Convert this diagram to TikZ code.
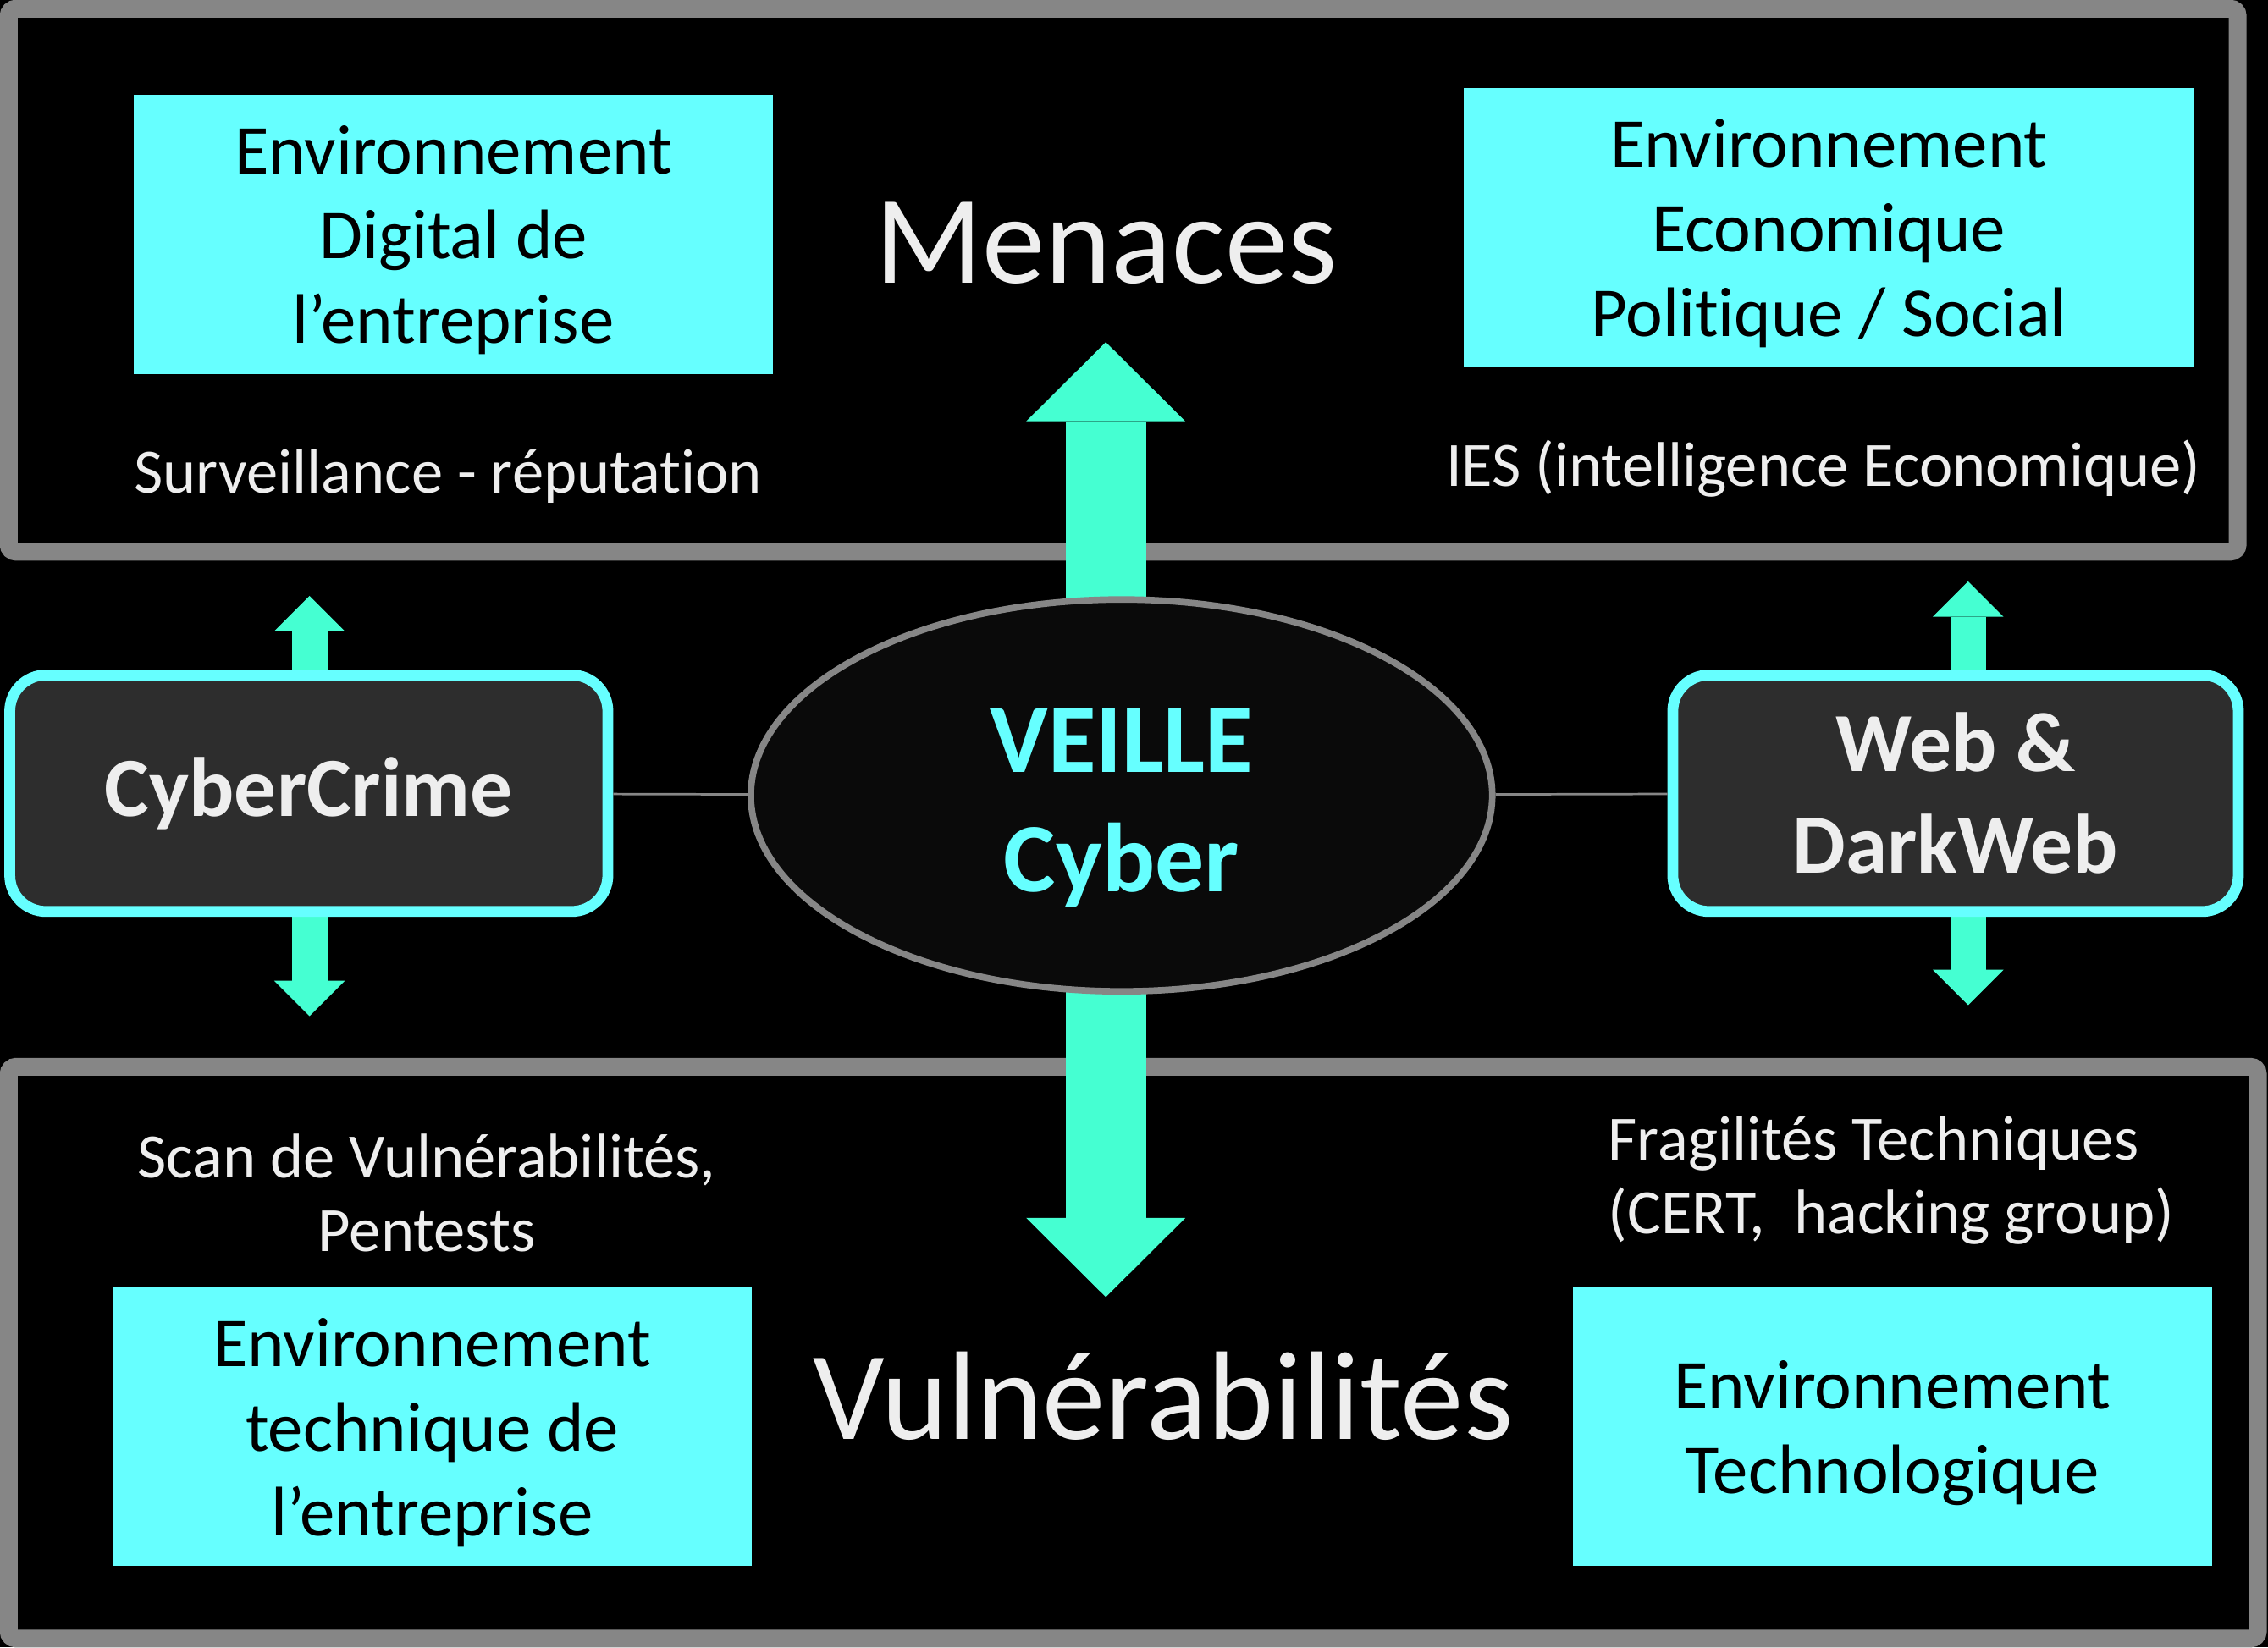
\documentclass[tikz,border=0pt]{standalone}
\usepackage{fontspec}
\setmainfont{Carlito}[Ligatures=CommonOff]
\usepackage{tikz}
\usetikzlibrary{shapes.geometric}
\usetikzlibrary{arrows.meta}
\definecolor{framegray}{HTML}{868686}
\definecolor{boxcyan}{HTML}{66FFFF}
\definecolor{arrowgreen}{HTML}{45FFD2}
\definecolor{darkfill}{HTML}{2D2D2D}
\definecolor{lighttext}{HTML}{EEEEEE}
\definecolor{ovalfill}{HTML}{0A0A0A}
\tikzset{zoneframe/.style={draw=framegray, line width=1.23mm, rounded corners=0.5mm},
 envbox/.style={fill=boxcyan, inner sep=0pt, align=center, text=black, text depth=0pt,
   font=\fontsize{13.8}{16.64}\selectfont},
 notetext/.style={text=lighttext, inner sep=0pt, font=\fontsize{12.42}{14.5}\selectfont},
 bigtitle/.style={text=lighttext, inner sep=0pt, font=\fontsize{24.8}{30}\selectfont},
 darkbox/.style={draw=boxcyan, fill=darkfill, line width=0.75mm, rounded corners=2.5mm,
   minimum height=16.35mm, inner sep=0pt, align=center, text=lighttext,
   font=\bfseries\fontsize{16.56}{20.06}\selectfont},
 oval/.style={ellipse, draw=framegray, fill=ovalfill, line width=0.45mm,
   minimum width=51.26mm, minimum height=27.1mm, inner sep=0pt},
 ovaltext/.style={text=boxcyan, inner sep=0pt, align=center,
   font=\bfseries\fontsize{19.3}{23.55}\selectfont},
 bigarrow/.style={draw=arrowgreen, line width=5.57mm,
   arrows={Triangle[width=11mm,length=5.47mm,line width=0pt]-Triangle[width=11mm,length=5.47mm,line width=0pt]}},
 smallarrow/.style={draw=arrowgreen, line width=2.46mm,
   arrows={Triangle[width=4.9mm,length=2.45mm,line width=0pt]-Triangle[width=4.9mm,length=2.45mm,line width=0pt]}},
 link/.style={draw=framegray, line width=0.16mm},
 }

\begin{document}
\begin{tikzpicture}[x=0.1mm, y=-0.1mm]
        \path[use as bounding box, fill=black] (0,0) rectangle (1568,1139);
        \draw[zoneframe] (6,6) rectangle (1547,381.5);
        \draw[zoneframe] (6,737.7) rectangle (1561,1133);

        \coordinate (mtop) at (764.5,236.6);
        \coordinate (mbot) at (764.5,896.9);
        \draw[bigarrow] (mtop) -- (mbot);

        \node[oval] (veille) at (775.4,550) {};
        \node[ovaltext] (veilletxt) at (775.4,558.6) {VEILLE\\Cyber};

        \coordinate (ctop) at (214,412);
        \coordinate (cbot) at (214,702.6);
        \coordinate (wtop) at (1360.7,402);
        \coordinate (wbot) at (1360.7,695);
        \draw[smallarrow] (ctop) -- (cbot);
        \draw[smallarrow] (wtop) -- (wbot);

        \node[darkbox, minimum width=41.35mm] (cyber) at (213.5,548.5) {CyberCrime};
        \node[darkbox, minimum width=39.1mm] (web) at (1352,548.5) {Web \&\\DarkWeb};
        \draw[link] (cyber) -- (veille);
        \draw[link] (veille) -- (web);

        \node[envbox, minimum width=44.2mm, minimum height=19.34mm] (digital) at (313.5,162)
            {Environnement\\Digital de\\l’entreprise};
        \node[envbox, minimum width=50.5mm, minimum height=19.34mm] (economic) at (1264.4,157.3)
            {Environnement\\Economique\\Politique / Social};
        \node[envbox, minimum width=44.16mm, minimum height=19.27mm] (technical) at (298.8,986.7)
            {Environnement\\technique de\\l’entreprise};
        \node[envbox, minimum width=44.18mm, minimum height=19.27mm] (technology) at (1308.3,986.7)
            {Environnement\\Technologique};

        \node[bigtitle, anchor=base] (threats) at (764.6,195.5) {Menaces};
        \node[bigtitle, anchor=base] (vulns) at (804.2,995) {Vulnérabilités};

        \node[notetext, anchor=base] (watch) at (309.8,341) {Surveillance - réputation};
        \node[notetext, anchor=base] (ies) at (1260.7,336) {IES (intelligence Economique)};
        \node[notetext, align=center] (scan) at (295,825) {Scan de Vulnérabilités,\\Pentests};
        \node[notetext, align=left, anchor=base west] (flaws) at (1111.2,853.2)
            {Fragilités Techniques\\(CERT,\ \ hacking group)};
\end{tikzpicture}
\end{document}
